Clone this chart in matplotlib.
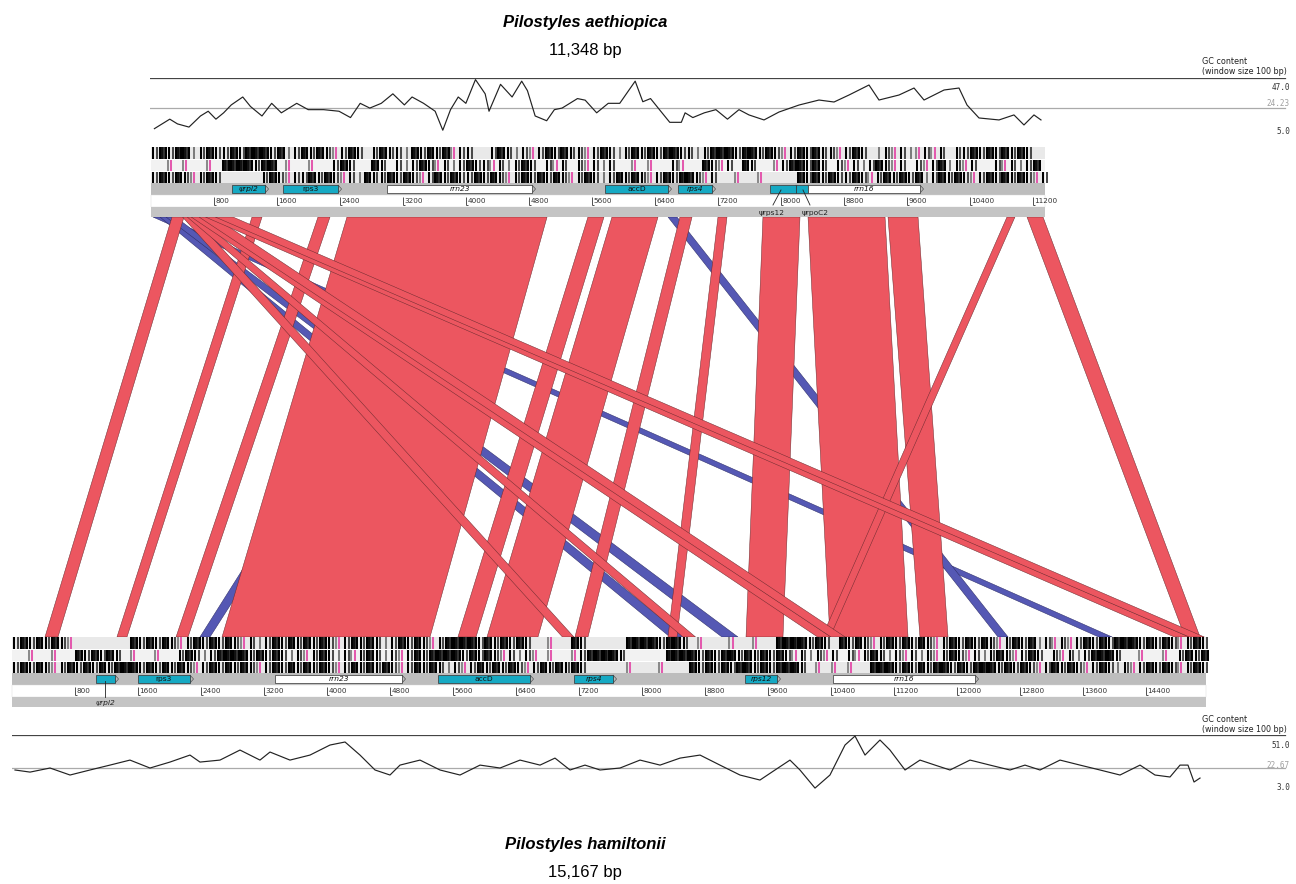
import matplotlib
matplotlib.use("Agg")
import matplotlib.pyplot as plt
from matplotlib.patches import Rectangle, Polygon

# ---- layout constants (pixels of the 1296x884 picture) ----
W, H = 1296, 884
PX_PER_BP = 0.07875
TOP_X0 = 151          # px where P. aethiopica position 0 sits
BOT_X0 = 12           # px where P. hamiltonii position 0 sits
TOP_SHIFT = (TOP_X0 - BOT_X0) / PX_PER_BP
BIN = 100             # bp per character in the barcode strings

# ---- data ----
top_len = 11348
bot_len = 15167

# GC content (window 100 bp)
gc_top_pos = [56, 251, 349, 495, 641, 739, 837, 935, 1032, 1178, 1276, 1422, 1545, 1668, 1863, 2009,
              2205, 2400, 2546, 2669, 2791, 2937, 3084, 3230, 3328, 3474, 3621, 3718, 3816, 3914,
              4011, 4133, 4256, 4305, 4451, 4598, 4720, 4793, 4891, 5037, 5135, 5233, 5428, 5526,
              5672, 5819, 5965, 6161, 6258, 6356, 6502, 6600, 6747, 6795, 6893, 7039, 7186, 7333,
              7479, 7606, 7797, 7987, 8241, 8495, 8686, 8876, 9130, 9257, 9511, 9702, 9829, 10083,
              10273, 10375, 10527, 10781, 10971, 11098, 11225, 11314]
gc_top_val = [8.6, 15.8, 12.2, 9.8, 18.2, 21.8, 15.8, 20.6, 26.6, 32.6, 25.4, 18.2, 27.8, 20.6, 27.8, 23.0,
              23.0, 21.8, 17.0, 27.8, 24.2, 27.8, 35.0, 26.6, 32.6, 27.8, 21.8, 7.4, 23.0, 32.6,
              27.8, 45.8, 35.0, 21.8, 42.2, 32.6, 44.6, 37.4, 18.2, 14.6, 23.0, 24.2, 31.4, 30.2,
              20.6, 27.8, 27.8, 44.6, 29.0, 31.4, 20.6, 13.4, 13.4, 20.6, 17.0, 20.6, 23.0, 15.8,
              23.0, 19.0, 15.2, 21.2, 26.5, 30.3, 28.8, 34.1, 41.7, 30.3, 34.1, 39.4, 30.3, 37.9,
              39.4, 26.5, 16.7, 15.2, 19.0, 11.4, 19.0, 15.2]
gc_bot_pos = [38, 229, 483, 737, 990, 1244, 1498, 1752, 2006, 2260, 2387, 2641, 2895, 3149, 3276, 3530,
              3784, 4038, 4229, 4419, 4610, 4800, 4927, 5181, 5435, 5689, 5943, 6197, 6451, 6705,
              6895, 7086, 7276, 7467, 7721, 7975, 8229, 8483, 8737, 8990, 9244, 9498, 9689, 9879,
              10006, 10197, 10387, 10578, 10705, 10832, 11022, 11149, 11340, 11530, 11721, 11911,
              12165, 12419, 12673, 12863, 13054, 13308, 13562, 13816, 14070, 14324, 14514, 14705,
              14832, 14933, 15010, 15086]
gc_bot_val = [21.0, 19.2, 22.7, 16.7, 21.0, 25.2, 29.5, 22.7, 27.8, 33.8, 27.8, 29.5, 38.1, 29.5, 36.4, 29.5,
              33.8, 42.4, 45.0, 33.8, 21.0, 16.7, 25.2, 29.5, 21.0, 16.7, 25.2, 22.7, 29.5, 25.2,
              31.2, 21.0, 25.2, 21.0, 22.7, 29.5, 25.2, 31.2, 33.8, 25.2, 16.7, 12.4, 21.0, 29.5,
              21.0, 5.5, 16.7, 42.4, 50.1, 33.8, 46.7, 38.1, 21.0, 29.5, 25.2, 21.0, 29.5, 25.2,
              21.0, 25.2, 21.0, 29.5, 25.2, 21.0, 16.7, 25.2, 16.7, 15.0, 25.2, 25.2, 10.7, 14.1]
gc_top_range = (5.0, 24.23, 47.0)
gc_bot_range = (3.0, 22.67, 51.0)

# stop/start codon barcode rows, one char per 100 bp
top_rows = [
    "|#|##:|#||#|###|#:|#|#|p|#|.|#||:#|#|#p||..|#|:|p|#|#||p|#|:|#|#|##||:|###|##|#|p|#|#||p|#|.:|p|:p|p|.||#|#|#|#|",
    "..p.p..p.####|##.p..p..|#|..#|.|:|#|p|:|#||p|:|#|.|p|.|p|:|..p.p..|p..#|p|.#|..p|##|#|.|p|:|#|p|.|p|#:|p|..|p|:|#",
    "|#|#|p|#|.....|#|p||#|#|p|:#||#|#|p|#|#||#|#|p|#|#|#|p|#|:|#|#|p|#|##|p|..p..p....#|#|#||#|p|#|#|#:|#|#|p|#|#|#|p|:||#",
]
bot_rows = [
    "|#|#|#|p.......#|#|#|p|#|#|#|p|:|#|#|#|#|p|#|#|:|#|#|p|####|#|#|#|..p..#|.....####|##|.p...p..p..####|#|.#|#|p|#|#|#|p|#|#|#|p|#|#:|p|p|#|#|###|#|#|p|#|#|#",
    "..p..p..#|#|#|.p..p..|#|:|####|#|#|:|p|#|:|p|#|:|p|#|####|#|#|p|:|p.p..p|####|.....####|#|##|#|#|#|p|:|p|.|p|#|:|p|:|p|#|p|:|#|p|#|.|p|:|###|..p..p.|#|#|#|.p|",
    "|#|#|p|#|#|#|###|#|#|#|p|#|#|#|p|#|#|#|#|p|#|#|#|p|#|#|:|p|#|#|#|p|#|#|#|.....p...p...#|#|#|##|#|###|.p.p.p..###|#|#|##|#|###|#|#|p|#|#|p|#|:|p|#|#|p|#|#|..p|#|#|#|p.|#|",
]

# genes: name, start, end, kind
top_gene_names = ["ψrpl2", "rps3", "rrn23", "accD", "rps4", "", "", "rrn16"]
top_gene_start = [1029, 1676, 2997, 5765, 6692, 7860, 8190, 8343]
top_gene_end = [1448, 2375, 4838, 6565, 7124, 8190, 8343, 9765]
top_gene_kind = ["prot", "prot", "rna", "prot", "prot", "prot", "prot", "rna"]
bot_gene_names = ["", "rps3", "rrn23", "accD", "rps4", "rps12", "rrn16"]
bot_gene_start = [1067, 1600, 3340, 5410, 7137, 9308, 10425]
bot_gene_end = [1308, 2260, 4952, 6578, 7632, 9714, 12229]
bot_gene_kind = ["prot", "prot", "rna", "prot", "prot", "prot", "rna"]
italic_genes = ["ψrpl2", "rrn23", "rps4", "rps12", "rrn16"]

# matches: top start/end, bottom start/end (bp), strand
m_top_s = [25, 114, 190, 3987, 6565,
           267, 1283, 2121, 2489, 5549, 5854, 7771, 8343, 9359, 10870, 11124, 6717, 7200,
           400, 460, 510, 610, 690, 815]
m_top_e = [175, 230, 310, 4152, 6679,
           419, 1410, 2273, 5029, 5752, 6438, 8241, 9321, 9740, 10971, 11327, 6870, 7314,
           540, 590, 690, 800, 910, 1040]
m_bot_s = [13800, 8356, 9016, 2387, 12521,
           419, 1333, 2083, 2667, 5663, 6032, 9321, 10387, 11530, 10286, 14895, 7149, 8330,
           6990, 8520, 10230, 10400, 14760, 14950]
m_bot_e = [13970, 8533, 9219, 2514, 12648,
           584, 1460, 2235, 5308, 5892, 6679, 9790, 11378, 11886, 10387, 15086, 7314, 8444,
           7135, 8680, 10400, 10580, 14950, 15140]
m_strand = ["rev"] * 5 + ["fwd"] * 19

RED, RED_EDGE = "#ec5660", "#6a2a2e"
BLUE, BLUE_EDGE = "#5558b4", "#2a2a64"
CYAN = "#16a9c3"

fig = plt.figure(figsize=(W / 100, H / 100), dpi=100)
ax = fig.add_axes([0, 0, 1, 1])
ax.set_xlim(-BOT_X0 / PX_PER_BP, (W - BOT_X0) / PX_PER_BP)
ax.set_ylim(H, 0)
ax.axis("off")

# track rows relative to the genome's first row (px)
ROWS_Y = [(0, 11.5), (12.5, 24), (25, 36)]
GENEBAR_Y = (36, 48)
TICKROW_Y = (48, 60)
LOWBAR_Y = (60, 70)


def draw_genome(y0, shift, length, rows, names, starts, ends, kinds):
    for r, pattern in enumerate(rows):
        ya, yb = y0 + ROWS_Y[r][0], y0 + ROWS_Y[r][1]
        bg = "#f2f2f2" if r == 1 else "#e9e9e9"
        ax.add_patch(Rectangle((shift, ya), length, yb - ya, fc=bg, ec="none", zorder=3))
        for i, ch in enumerate(pattern):
            b = i * BIN
            if b >= length - 20:
                break
            if ch == "#":
                marks = [(0.12, "black"), (0.37, "#111111"), (0.62, "#333333"), (0.87, "black")]
            elif ch == "|":
                marks = [(0.3, "black"), (0.75, "#4a4a4a")]
            elif ch == ":":
                marks = [(0.5, "#7c7c7c")]
            elif ch == "p":
                marks = [(0.5, "#e35aae"), (0.1, "#8a8a8a")]
            else:
                marks = []
            for frac, col in marks:
                ax.vlines(shift + b + frac * BIN, ya, yb, colors=col, lw=1.45, zorder=4)

    ax.add_patch(Rectangle((shift, y0 + GENEBAR_Y[0]), length, GENEBAR_Y[1] - GENEBAR_Y[0],
                           fc="#bdbdbd", ec="none", zorder=3))
    ax.add_patch(Rectangle((shift, y0 + TICKROW_Y[0]), length, TICKROW_Y[1] - TICKROW_Y[0],
                           fc="white", ec="#d8d8d8", lw=0.3, zorder=3))
    ax.add_patch(Rectangle((shift, y0 + LOWBAR_Y[0]), length, LOWBAR_Y[1] - LOWBAR_Y[0],
                           fc="#c4c4c4", ec="none", zorder=3))

    gy0, gy1 = y0 + GENEBAR_Y[0] + 2, y0 + GENEBAR_Y[1] - 2
    for name, s, e, kind in zip(names, starts, ends, kinds):
        fc = CYAN if kind == "prot" else "white"
        ax.add_patch(Polygon([(shift + e, gy0), (shift + e + 45, (gy0 + gy1) / 2), (shift + e, gy1)],
                             closed=True, fc="#bdbdbd", ec="#555555", lw=0.5, zorder=4))
        ax.add_patch(Rectangle((shift + s, gy0), e - s, gy1 - gy0, fc=fc, ec="#333333", lw=0.5, zorder=5))
        if name:
            ax.text(shift + (s + e) / 2, (gy0 + gy1) / 2 + 0.3, name, fontsize=5.4, ha="center", va="center",
                    style="italic" if name in italic_genes else "normal", color="#111111", zorder=6)

    for t in range(800, length, 800):
        x = shift + t
        ty = y0 + TICKROW_Y[0]
        ax.vlines(x, ty + 1.5, ty + 10, colors="#333333", lw=0.6, zorder=5)
        ax.hlines(ty + 10, x, x + 25, colors="#333333", lw=0.6, zorder=5)
        ax.text(x + 20, ty + 6, str(t), fontsize=5.2, ha="left", va="center", color="#333333", zorder=6)


# ---- matches between the two genomes ----
y_top = 147 + LOWBAR_Y[1]
y_bot = 637
for ts, te, bs, be, st in zip(m_top_s, m_top_e, m_bot_s, m_bot_e, m_strand):
    fc, ec = (RED, RED_EDGE) if st == "fwd" else (BLUE, BLUE_EDGE)
    ax.add_patch(Polygon([(ts + TOP_SHIFT, y_top), (te + TOP_SHIFT, y_top), (be, y_bot), (bs, y_bot)],
                         closed=True, fc=fc, ec=ec, lw=0.35, zorder=2 if st == "rev" else 2.5))

draw_genome(147, TOP_SHIFT, top_len, top_rows, top_gene_names, top_gene_start, top_gene_end, top_gene_kind)
draw_genome(637, 0, bot_len, bot_rows, bot_gene_names, bot_gene_start, bot_gene_end, bot_gene_kind)

# labels for pseudogenes outside their boxes
ax.plot([7898 + TOP_SHIFT, 8000 + TOP_SHIFT], [205, 190], color="#222222", lw=0.6, zorder=6)
ax.plot([8368 + TOP_SHIFT, 8279 + TOP_SHIFT], [205, 190], color="#222222", lw=0.6, zorder=6)
ax.text(7886 + TOP_SHIFT, 213, "ψrps12", fontsize=5.4, ha="center", va="center", color="#222222", zorder=6)
ax.text(8432 + TOP_SHIFT, 213, "ψrpoC2", fontsize=5.4, ha="center", va="center", color="#222222", zorder=6)
ax.plot([1187, 1187], [681, 697], color="#222222", lw=0.6, zorder=6)
ax.text(1187, 703, "ψrpl2", fontsize=5.4, ha="center", va="center", style="italic", color="#222222", zorder=6)


# ---- GC content panels ----
def gc_panel(x0_px, y_top_px, y_bot_px, pos, val, rng):
    lo, mid, hi = rng
    gax = fig.add_axes([x0_px / W, 1 - y_bot_px / H, (W - x0_px) / W, (y_bot_px - y_top_px) / H])
    gax.set_xlim(0, (W - x0_px) / PX_PER_BP)
    gax.set_ylim(lo, hi)
    gax.axis("off")
    frac = (1285 - x0_px) / (W - x0_px)
    gax.axhline(hi, xmin=0, xmax=frac, color="#444444", lw=0.9)
    gax.axhline(mid, xmin=0, xmax=frac, color="#aaaaaa", lw=0.9)
    gax.plot(pos, val, color="#222222", lw=0.85)
    return gax


gc_panel(TOP_X0 - 1, 78, 133.4, gc_top_pos, gc_top_val, gc_top_range)
gc_panel(BOT_X0, 735, 791, gc_bot_pos, gc_bot_val, gc_bot_range)

for ytxt, ymax, ymid, ymin, rng in [(62, 87, 104, 131, gc_top_range), (720, 745, 766, 787, gc_bot_range)]:
    fig.text(1202 / W, 1 - ytxt / H, "GC content", fontsize=5.8, ha="left", va="center", color="#222222")
    fig.text(1202 / W, 1 - (ytxt + 9) / H, "(window size 100 bp)", fontsize=5.8, ha="left", va="center",
             color="#222222")
    fig.text(1290 / W, 1 - ymax / H, f"{rng[2]:.1f}", fontsize=5.5, family="DejaVu Sans Mono",
             ha="right", va="center", color="#333333")
    fig.text(1290 / W, 1 - ymid / H, f"{rng[1]:.2f}", fontsize=5.5, family="DejaVu Sans Mono",
             ha="right", va="center", color="#a0a0a0")
    fig.text(1290 / W, 1 - ymin / H, f"{rng[0]:.1f}", fontsize=5.5, family="DejaVu Sans Mono",
             ha="right", va="center", color="#333333")

# ---- titles ----
fig.text(585 / W, 1 - 22 / H, "Pilostyles aethiopica", fontsize=12, family="Liberation Sans",
         weight="bold", style="italic", ha="center", va="center")
fig.text(585 / W, 1 - 50 / H, "11,348 bp", fontsize=12, family="Liberation Sans", ha="center", va="center")
fig.text(585 / W, 1 - 845 / H, "Pilostyles hamiltonii", fontsize=12, family="Liberation Sans",
         weight="bold", style="italic", ha="center", va="center")
fig.text(585 / W, 1 - 872 / H, "15,167 bp", fontsize=12, family="Liberation Sans", ha="center", va="center")

fig.savefig("out.png", dpi=100)
